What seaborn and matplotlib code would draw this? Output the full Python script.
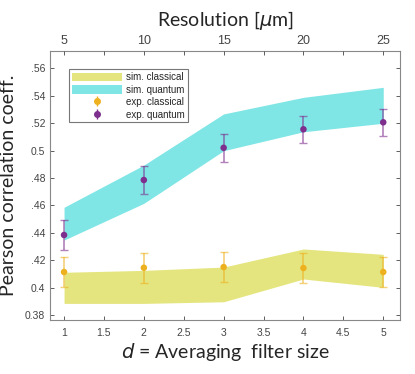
import matplotlib
matplotlib.use('Agg')
import matplotlib.pyplot as plt
import numpy as np
import pandas as pd
import seaborn as sns

# filter sizes and matching resolution
d = [1, 2, 3, 4, 5]
resolution = [5, 10, 15, 20, 25]

# simulated bands (lower, upper)
sim_classical_lo = [0.3885, 0.3885, 0.3897, 0.4063, 0.4002]
sim_classical_hi = [0.4112, 0.4126, 0.4150, 0.4282, 0.4243]
sim_quantum_lo = [0.4347, 0.4615, 0.4999, 0.5137, 0.5199]
sim_quantum_hi = [0.4586, 0.4894, 0.5267, 0.5388, 0.5461]

# experimental points with error
exp_classical = [0.4114, 0.4145, 0.4150, 0.4143, 0.4114]
exp_classical_err = [0.0112, 0.0111, 0.0111, 0.0111, 0.0107]
exp_quantum = [0.4384, 0.4785, 0.5020, 0.5155, 0.5206]
exp_quantum_err = [0.0112, 0.0103, 0.0100, 0.0099, 0.0098]

ytick_vals = [0.38, 0.40, 0.42, 0.44, 0.46, 0.48, 0.50, 0.52, 0.54, 0.56]
ytick_labels = ['0.38', '0.4', '.42', '.44', '.46', '.48', '0.5', '.52', '.54', '.56']
xtick_labels = ['1', '1.5', '2', '2.5', '3', '3.5', '4', '4.5', '5']
top_labels = ['5', '', '10', '', '15', '', '20', '', '25']

df = pd.DataFrame({'d': d, 'exp_classical': exp_classical,
                   'exp_quantum': exp_quantum})

sns.set_style('white')
plt.rcParams['font.family'] = ['Liberation Sans', 'DejaVu Sans']

fig = plt.figure(figsize=(4.15, 3.74), dpi=100)
ax = fig.add_axes([50/415, 54/374, 350/415, 269/374])

c_cls_band = '#E5E57F'
c_q_band = '#7FE5E5'
c_cls = '#EDB120'
c_q = '#7E2F8E'

ax.fill_between(d, sim_classical_lo, sim_classical_hi, color=c_cls_band,
                lw=0, label='sim. classical')
ax.fill_between(d, sim_quantum_lo, sim_quantum_hi, color=c_q_band,
                lw=0, label='sim. quantum')

ax.errorbar(d, exp_classical, yerr=exp_classical_err, fmt='none',
            ecolor=c_cls, alpha=0.6, capsize=3, elinewidth=1.2)
ax.errorbar(d, exp_quantum, yerr=exp_quantum_err, fmt='none',
            ecolor=c_q, alpha=0.6, capsize=3, elinewidth=1.2)
sns.scatterplot(data=df, x='d', y='exp_classical', color=c_cls, s=22,
                edgecolor='none', ax=ax, zorder=5)
sns.scatterplot(data=df, x='d', y='exp_quantum', color=c_q, s=22,
                edgecolor='none', ax=ax, zorder=5)

# legend proxies
ax.errorbar([], [], yerr=[], fmt='o', color=c_cls, ms=4,
            capsize=3, elinewidth=1, label='exp. classical')
ax.errorbar([], [], yerr=[], fmt='o', color=c_q, ms=4,
            capsize=3, elinewidth=1, label='exp. quantum')
handles, labels = ax.get_legend_handles_labels()
order = ['sim. classical', 'sim. quantum', 'exp. classical', 'exp. quantum']
hmap = dict(zip(labels, handles))
leg = ax.legend([hmap[k] for k in order], order, loc='upper left',
                bbox_to_anchor=(0.04, 0.95), fontsize=7, frameon=True,
                fancybox=False, edgecolor='#555555', handlelength=5.2,
                handleheight=1.0, borderpad=0.3, labelspacing=0.25,
                handletextpad=0.4)
leg.get_frame().set_linewidth(0.8)

ax.set_xlim(0.824, 5.21)
ax.set_ylim(0.3764, 0.5726)
ax.set_xticks(np.arange(1, 5.01, 0.5))
ax.set_xticklabels(xtick_labels)
ax.set_yticks(ytick_vals)
ax.set_yticklabels(ytick_labels)
ax.tick_params(direction='in', length=3, width=0.6, colors='#444444',
               labelsize=7.5, right=True, left=True, bottom=True)
ax.tick_params(axis='x', pad=6)
for s in ax.spines.values():
    s.set_color('#888888')
    s.set_linewidth(0.8)

lab_font = ['Lato', 'DejaVu Sans']
ax.set_xlabel('$d$ = Averaging  filter size', fontsize=14, family=lab_font,
              labelpad=2)
ax.set_ylabel('Pearson correlation coeff.', fontsize=14, family=lab_font,
              labelpad=6)

ax2 = ax.twiny()
ax2.set_xlim(ax.get_xlim())
ax2.set_xticks(np.arange(1, 5.01, 0.5))
ax2.set_xticklabels(top_labels)
ax2.tick_params(direction='in', length=3, width=0.6, colors='#444444',
                labelsize=9, pad=3)
for s in ax2.spines.values():
    s.set_visible(False)
ax2.set_xlabel('Resolution [$\\mu$m]', fontsize=14, family=lab_font,
               labelpad=6)

fig.savefig('out.png', dpi=100)
